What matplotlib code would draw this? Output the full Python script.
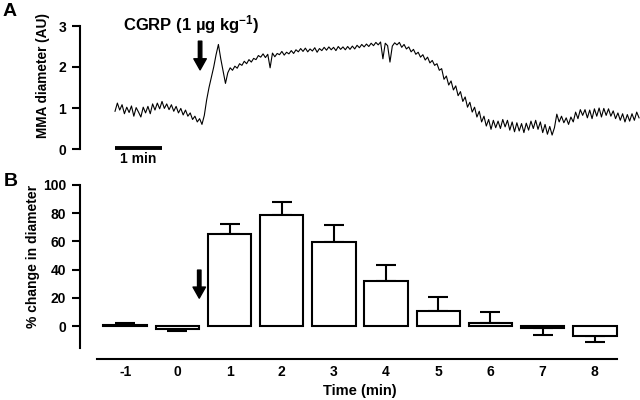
import numpy as np
import matplotlib
matplotlib.use("Agg")
import matplotlib.pyplot as plt

plt.rcParams['font.family'] = ['Liberation Sans', 'DejaVu Sans']
plt.rcParams['font.weight'] = 'bold'
plt.rcParams['axes.unicode_minus'] = False
plt.rcParams['mathtext.fontset'] = 'custom'
plt.rcParams['mathtext.rm'] = 'Liberation Sans:bold'
plt.rcParams['mathtext.default'] = 'rm'

# Panel A: MMA diameter trace (AU), one value every 0.05 min
trace = [
    0.92, 1.12, 0.95, 1.08, 0.86, 1.02, 0.89, 1.05, 0.80, 1.01,
    0.90, 0.78, 1.02, 0.88, 1.04, 0.86, 1.10, 0.95, 1.12, 0.98,
    1.16, 0.99, 1.10, 0.96, 1.08, 0.92, 1.04, 0.88, 0.99, 0.83,
    0.95, 0.80, 0.88, 0.72, 0.80, 0.66, 0.74, 0.60, 0.82, 1.20,
    1.50, 1.75, 2.00, 2.30, 2.55, 2.20, 1.90, 1.60, 1.86, 1.98,
    1.92, 2.02, 1.97, 2.08, 2.04, 2.14, 2.08, 2.18, 2.12, 2.21,
    2.18, 2.28, 2.24, 2.32, 2.23, 2.31, 1.98, 2.34, 2.25, 2.33,
    2.30, 2.38, 2.29, 2.36, 2.32, 2.40, 2.33, 2.42, 2.37, 2.45,
    2.38, 2.46, 2.37, 2.44, 2.39, 2.47, 2.36, 2.45, 2.40, 2.48,
    2.41, 2.49, 2.42, 2.48, 2.40, 2.50, 2.43, 2.49, 2.42, 2.50,
    2.43, 2.51, 2.44, 2.53, 2.47, 2.55, 2.49, 2.56, 2.50, 2.58,
    2.52, 2.60, 2.54, 2.61, 2.20, 2.58, 2.52, 2.12, 2.51, 2.59,
    2.54, 2.60, 2.48, 2.55, 2.44, 2.49, 2.37, 2.43, 2.31, 2.36,
    2.24, 2.30, 2.17, 2.24, 2.10, 2.16, 2.04, 2.08, 1.92, 1.96,
    1.70, 1.78, 1.56, 1.66, 1.44, 1.54, 1.30, 1.40, 1.16, 1.27,
    1.02, 1.14, 0.90, 1.02, 0.78, 0.92, 0.66, 0.80, 0.56, 0.72,
    0.48, 0.70, 0.52, 0.68, 0.50, 0.72, 0.54, 0.70, 0.46, 0.66,
    0.42, 0.64, 0.44, 0.62, 0.40, 0.63, 0.46, 0.68, 0.50, 0.70,
    0.48, 0.66, 0.40, 0.60, 0.36, 0.55, 0.34, 0.52, 0.85, 0.66,
    0.80, 0.64, 0.76, 0.60, 0.78, 0.66, 0.90, 0.74, 0.96, 0.82,
    0.96, 0.76, 0.95, 0.74, 0.98, 0.80, 1.00, 0.78, 0.99, 0.82,
    0.98, 0.80, 0.93, 0.74, 0.88, 0.70, 0.86, 0.66, 0.84, 0.68,
    0.86, 0.70, 0.90, 0.76,
]
sample_min = 0.05
injection_min = 1.81

# Panel B: % change in diameter per minute
minutes = [-1, 0, 1, 2, 3, 4, 5, 6, 7, 8]
pct_change = [1, -2, 65, 79, 59.5, 32, 10.5, 2.5, -1, -7]
sem = [1, 1.5, 7.5, 9, 12, 11, 10, 7.5, 5.5, 4.5]

fig = plt.figure(figsize=(6.4, 4), dpi=100)

# ---- panel A
axA = fig.add_axes([80/640, 1 - 149/400, 560/640, 123/400])
t = np.arange(len(trace)) * sample_min
axA.plot(t, trace, color='black', lw=0.8)
axA.set_xlim(-0.745, 11.17)
axA.set_ylim(0, 3)
axA.set_yticks([0, 1, 2, 3])
axA.tick_params(axis='y', length=6, width=1.5, labelsize=10, pad=4)
axA.set_xticks([])
for s in ['top', 'right', 'bottom']:
    axA.spines[s].set_visible(False)
axA.spines['left'].set_linewidth(1.5)
axA.patch.set_alpha(0)

# scale bar 1 min
axA.plot([0, 1], [0.02, 0.02], color='black', lw=2.8, clip_on=False, solid_capstyle='butt')
axA.text(0.5, -0.25, '1 min', ha='center', va='center', fontsize=10, fontweight='bold')

axA.annotate('', xy=(injection_min, 1.93), xytext=(injection_min, 2.63),
             arrowprops=dict(facecolor='black', edgecolor='black', width=2.5,
                             headwidth=9, headlength=8, shrink=0))
fig.text(123/640, 1 - 25/400, 'CGRP (1 µg kg$^{-1}$)', ha='left', va='center',
         fontsize=12, fontweight='bold')
fig.text(43/640, 1 - 76/400, 'MMA diameter (AU)', rotation=90, ha='center',
         va='center', fontsize=9.8, fontweight='bold')
fig.text(10/640, 1 - 11/400, 'A', ha='center', va='center', fontsize=14,
         fontweight='bold')

# ---- panel B
axB = fig.add_axes([80/640, 1 - 359/400, 560/640, 174/400])
lower = [e if v < 0 else 0 for v, e in zip(pct_change, sem)]
upper = [e if v >= 0 else 0 for v, e in zip(pct_change, sem)]
axB.errorbar(minutes, pct_change, yerr=[lower, upper], fmt='none', ecolor='black',
             elinewidth=1.5, capsize=7, capthick=1.5, zorder=1)
axB.bar(minutes, pct_change, width=0.83, color='white', edgecolor='black',
        linewidth=1.5, zorder=2)
axB.set_xlim(-1.865, 8.865)
axB.set_ylim(-23.3, 100)
axB.set_yticks([0, 20, 40, 60, 80, 100])
axB.set_xticks(minutes)
axB.tick_params(axis='y', length=6, width=1.5, labelsize=10, pad=4)
axB.tick_params(axis='x', length=0, labelsize=10, pad=4)
for s in ['top', 'right']:
    axB.spines[s].set_visible(False)
axB.spines['left'].set_bounds(-15.5, 100)
axB.spines['bottom'].set_bounds(-1.54, 8.42)
axB.spines['left'].set_linewidth(1.5)
axB.spines['bottom'].set_linewidth(1.5)
axB.set_xlabel('Time (min)', fontsize=10.5, fontweight='bold', labelpad=4)
axB.annotate('', xy=(0.42, 19.8), xytext=(0.42, 39.7),
             arrowprops=dict(facecolor='black', edgecolor='black', width=2.5,
                             headwidth=9, headlength=8, shrink=0))
fig.text(33/640, 1 - 256/400, '% change in diameter', rotation=90, ha='center',
         va='center', fontsize=10, fontweight='bold')
fig.text(11/640, 1 - 181/400, 'B', ha='center', va='center', fontsize=14,
         fontweight='bold')

fig.savefig('out.png', dpi=100)
